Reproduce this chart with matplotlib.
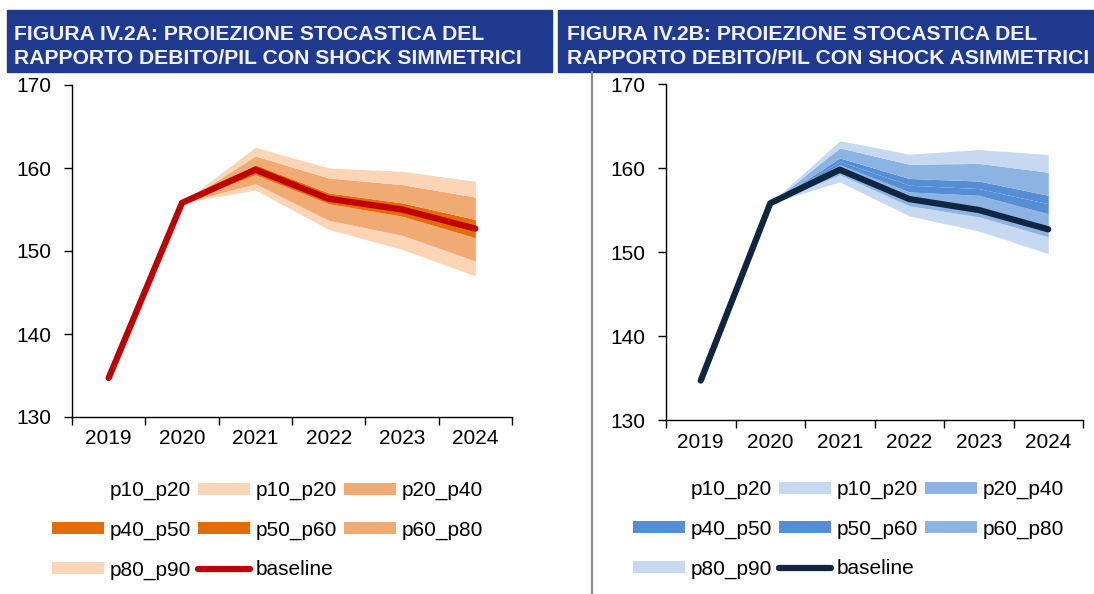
import matplotlib
matplotlib.use("Agg")
import matplotlib.pyplot as plt
from matplotlib.patches import Rectangle, Patch
from matplotlib.lines import Line2D

plt.rcParams['font.family'] = ['Liberation Sans', 'DejaVu Sans']

# ---------------- data ----------------
years = ["2019", "2020", "2021", "2022", "2023", "2024"]
fan_years = ["2020", "2021", "2022", "2023", "2024"]

baseline = [134.7, 155.8, 159.8, 156.3, 155.0, 152.7]

# Figure IV.2A - symmetric shocks
a_p10 = [155.8, 157.35, 152.6, 150.2, 147.0]
a_p20 = [155.8, 158.1, 153.7, 151.9, 148.8]
a_p40 = [155.8, 159.2, 155.7, 154.2, 151.6]
a_p50 = [155.8, 159.8, 156.3, 155.0, 152.7]
a_p60 = [155.8, 160.4, 157.0, 155.8, 153.8]
a_p80 = [155.8, 161.45, 158.8, 158.0, 156.5]
a_p90 = [155.8, 162.5, 160.0, 159.6, 158.4]

# Figure IV.2B - asymmetric shocks
b_p10 = [155.8, 158.35, 154.3, 152.5, 149.8]
b_p20 = [155.8, 159.2, 155.5, 154.2, 151.8]
b_p40 = [155.8, 160.4, 157.15, 156.75, 154.55]
b_p50 = [155.8, 160.8, 157.95, 157.55, 155.75]
b_p60 = [155.8, 161.2, 158.75, 158.45, 156.75]
b_p80 = [155.8, 162.4, 160.45, 160.55, 159.5]
b_p90 = [155.8, 163.25, 161.65, 162.2, 161.6]

titles = ["FIGURA IV.2A: PROIEZIONE STOCASTICA DEL",
          "RAPPORTO DEBITO/PIL CON SHOCK SIMMETRICI"]
titles_b = ["FIGURA IV.2B: PROIEZIONE STOCASTICA DEL",
            "RAPPORTO DEBITO/PIL CON SHOCK ASIMMETRICI"]
band_labels = ["p10_p20", "p20_p40", "p40_p50", "p50_p60", "p60_p80", "p80_p90"]

# ---------------- styling ----------------
W, H = 1094, 594
BAR = "#203A90"
orange = dict(light="#FBD5B5", mid="#F0AA74", dark="#E36C09", base="#C00000")
blue = dict(light="#C6D9F0", mid="#8DB3E2", dark="#558ED5", base="#10253F")

fig = plt.figure(figsize=(W / 100, H / 100), dpi=100)


def rect(x0, x1, ytop, ybot):
    return [x0 / W, 1 - ybot / H, (x1 - x0) / W, (ybot - ytop) / H]


def panel(axpos, pal, p10, p20, p40, p50, p60, p80, p90, leg_anchor):
    ax = fig.add_axes(axpos)
    xi = list(range(len(years)))
    xf = [years.index(y) for y in fan_years]
    bands = [(p10, p20, pal["light"]), (p20, p40, pal["mid"]),
             (p40, p50, pal["dark"]), (p50, p60, pal["dark"]),
             (p60, p80, pal["mid"]), (p80, p90, pal["light"])]
    for lo, hi, c in bands:
        ax.fill_between(xf, lo, hi, color=c, lw=0)
    ax.plot(xi, baseline, color=pal["base"], lw=4.5, solid_capstyle="round",
            solid_joinstyle="round", zorder=5)
    ax.set_xlim(-0.5, len(years) - 0.5)
    ax.set_ylim(130, 170)
    ax.set_yticks([130, 140, 150, 160, 170])
    ax.set_xticks([i - 0.5 for i in range(len(years) + 1)])
    ax.set_xticklabels([])
    ax.set_xticks(xi, minor=True)
    ax.set_xticklabels(years, minor=True)
    ax.tick_params(axis="x", which="major", length=6, width=1, direction="out")
    ax.tick_params(axis="x", which="minor", length=0, pad=9, labelsize=15)
    ax.tick_params(axis="y", length=6, width=1, pad=9, labelsize=15)
    for s in ("top", "right"):
        ax.spines[s].set_visible(False)
    for s in ("left", "bottom"):
        ax.spines[s].set_linewidth(1)

    # legend (row-major order arranged for column-major fill)
    blank = Patch(facecolor="none", edgecolor="none")
    h = [Patch(facecolor=c, edgecolor="none") for _, _, c in bands]
    base_h = Line2D([], [], color=pal["base"], lw=4.5, solid_capstyle="round")
    handles = [blank, h[2], h[5], h[0], h[3], base_h, h[1], h[4]]
    labels = ["p10_p20", band_labels[2], band_labels[5], band_labels[0],
              band_labels[3], "baseline", band_labels[1], band_labels[4]]
    fig.legend(handles, labels, ncol=3, frameon=False, fontsize=15,
               loc="upper left", bbox_to_anchor=leg_anchor,
               bbox_transform=fig.transFigure, borderpad=0, borderaxespad=0,
               handlelength=2.5, handleheight=0.52, handletextpad=0.25,
               columnspacing=0.35, labelspacing=0.98)
    return ax


panel(rect(72, 512, 85, 417), orange, a_p10, a_p20, a_p40, a_p50, a_p60,
      a_p80, a_p90, (52 / W, 1 - 481 / H))
panel(rect(666, 1083, 84, 420), blue, b_p10, b_p20, b_p40, b_p50, b_p60,
      b_p80, b_p90, (633 / W, 1 - 480 / H))

# title bars
for (x0, x1), tl, tx in [((7, 552), titles, 14), ((558, 1094), titles_b, 567)]:
    fig.patches.append(Rectangle((x0 / W, 1 - 72 / H), (x1 - x0) / W, 62 / H,
                                 transform=fig.transFigure, color=BAR, zorder=0))
    fig.text(tx / W, 1 - 40.5 / H, tl[0], color="#F2F2F2", fontsize=15.2,
             fontweight="bold", va="baseline", ha="left")
    fig.text(tx / W, 1 - 63.5 / H, tl[1], color="#F2F2F2", fontsize=15.2,
             fontweight="bold", va="baseline", ha="left")

# separator line
fig.add_artist(Line2D([592 / W, 592 / W], [0, 1 - 72 / H], transform=fig.transFigure,
                      color="#888888", lw=1.5))

fig.savefig("out.png", dpi=100)
